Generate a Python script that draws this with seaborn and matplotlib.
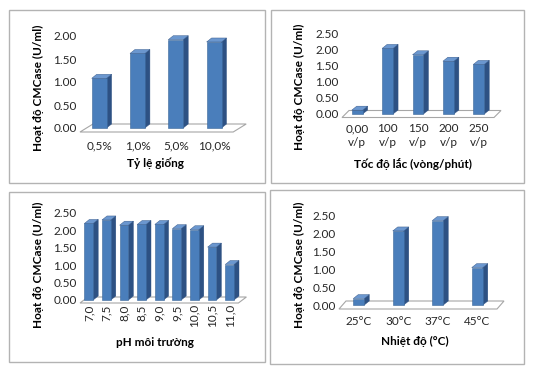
import numpy as np
import pandas as pd
import matplotlib
matplotlib.use("Agg")
import matplotlib.pyplot as plt
import seaborn as sns
from matplotlib.patches import Polygon, Rectangle
from matplotlib.ticker import FormatStrFormatter

# ---------------- data ----------------
seed_cats = ["0,5%", "1,0%", "5,0%", "10,0%"]
seed_vals = [1.08, 1.62, 1.92, 1.87]

shake_cats = ["0,00\nv/p", "100\nv/p", "150\nv/p", "200\nv/p", "250\nv/p"]
shake_vals = [0.12, 2.05, 1.85, 1.65, 1.55]

ph_cats = ["7,0", "7,5", "8,0", "8,5", "9,0", "9,5", "10,0", "10,5", "11,0"]
ph_vals = [2.20, 2.30, 2.15, 2.17, 2.17, 2.05, 2.02, 1.52, 1.02]

temp_cats = ["25°C", "30°C", "37°C", "45°C"]
temp_vals = [0.18, 2.08, 2.37, 1.05]

ylabel = "Hoạt độ CMCase (U/ml)"
xlabels = ["Tỷ lệ giống", "Tốc độ lắc (vòng/phút)", "pH môi trường", "Nhiệt độ (°C)"]

# ---------------- style ----------------
sns.set_style("white")
plt.rcParams["font.family"] = ["Lato", "DejaVu Sans"]

FRONT = "#4a7ebb"
SIDE = "#2d5183"
TOP = "#6b97cf"
TEXT = "#262626"

W, H = 534, 374
fig = plt.figure(figsize=(W / 100, H / 100), dpi=100)
fig.patch.set_facecolor("white")


def draw(cats, vals, left, slot, fdx, fdy, y0, ytop, ymax, bw, pad, rot,
         ylab_xy, xlab_xy, box):
    n = len(cats)
    right = left + slot * n + fdx
    ax = fig.add_axes([left / W, 1 - y0 / H, (right - left) / W, (y0 - ytop) / H])
    df = pd.DataFrame({"cat": cats, "val": vals})
    sns.barplot(data=df, x="cat", y="val", ax=ax, color=FRONT, saturation=1,
                width=bw, linewidth=0.4, edgecolor="#3a6699", zorder=3)
    ax.set_xlim(-0.5, n - 0.5 + fdx / slot)
    ax.set_ylim(0, ymax)
    pyy = (y0 - ytop) / ymax
    fx, fy = fdx / slot, fdy / pyy
    floor = Polygon([(-0.5, -fy / 2), (n - 0.5, -fy / 2), (n - 0.5 + fx, fy / 2),
                     (-0.5 + fx, fy / 2)], closed=True, fc="white", ec="#a6a6a6",
                    lw=0.8, clip_on=False, zorder=1)
    bars = list(ax.patches)
    ax.add_patch(floor)
    bx, by = 5 / slot, 4 / pyy
    for p in bars:
        p.set_clip_on(False)
        x0, w, h = p.get_x(), p.get_width(), p.get_height()
        side = Polygon([(x0 + w, 0), (x0 + w + bx, by), (x0 + w + bx, h + by), (x0 + w, h)],
                       closed=True, fc=SIDE, ec=SIDE, lw=0.3, clip_on=False, zorder=2)
        top = Polygon([(x0, h), (x0 + w, h), (x0 + w + bx, h + by), (x0 + bx, h + by)],
                      closed=True, fc=TOP, ec=SIDE, lw=0.3, clip_on=False, zorder=4)
        ax.add_patch(side)
        ax.add_patch(top)
    ax.set_yticks(np.arange(0, ymax + 0.001, 0.5))
    ax.yaxis.set_major_formatter(FormatStrFormatter("%.2f"))
    ax.set_xlabel("")
    ax.set_ylabel("")
    for s in ax.spines.values():
        s.set_visible(False)
    ax.set_facecolor("none")
    ax.tick_params(axis="y", length=0, pad=2.5, labelsize=8.5, colors=TEXT)
    ax.tick_params(axis="x", length=0, pad=pad, labelsize=8.5, colors=TEXT,
                   labelrotation=rot)
    for t in ax.get_xticklabels():
        t.set_linespacing(1.3)
    fig.text(ylab_xy[0] / W, 1 - ylab_xy[1] / H, ylabel, rotation=90, ha="center",
             va="center", fontsize=8.5, fontweight="bold", color="black")
    fig.text(xlab_xy[0] / W, 1 - xlab_xy[1] / H, xlab_xy[2], ha="center", va="center",
             fontsize=8.5, fontweight="bold", color="black")
    bl, bt, br, bb = box
    fig.add_artist(Rectangle((bl / W, 1 - bb / H), (br - bl) / W, (bb - bt) / H,
                             transform=fig.transFigure, fill=False, ec="#b3b3b3", lw=1))
    return ax


draw(seed_cats, seed_vals, 80, 38.3, 13, 8, 128, 36, 2.0, 0.39, 9, 0,
     (38, 88), (155, 163, xlabels[0]), (9, 10, 265, 183))
draw(shake_cats, shake_vals, 342, 30.4, 7, 7, 114, 34, 2.5, 0.36, 6.5, 0,
     (299, 87), (413, 164, xlabels[1]), (271, 10, 524, 183))
draw(ph_cats, ph_vals, 80, 17.6, 8, 6, 300, 213, 2.5, 0.5, 3, 90,
     (38, 265), (155, 342, xlabels[2]), (9, 192, 265, 362))
draw(temp_cats, temp_vals, 339, 39.5, 7, 8, 305, 216, 2.5, 0.28, 8, 0,
     (299, 265), (415, 341, xlabels[3]), (270, 190, 524, 364))

fig.savefig("out.png", dpi=100, facecolor="white")
